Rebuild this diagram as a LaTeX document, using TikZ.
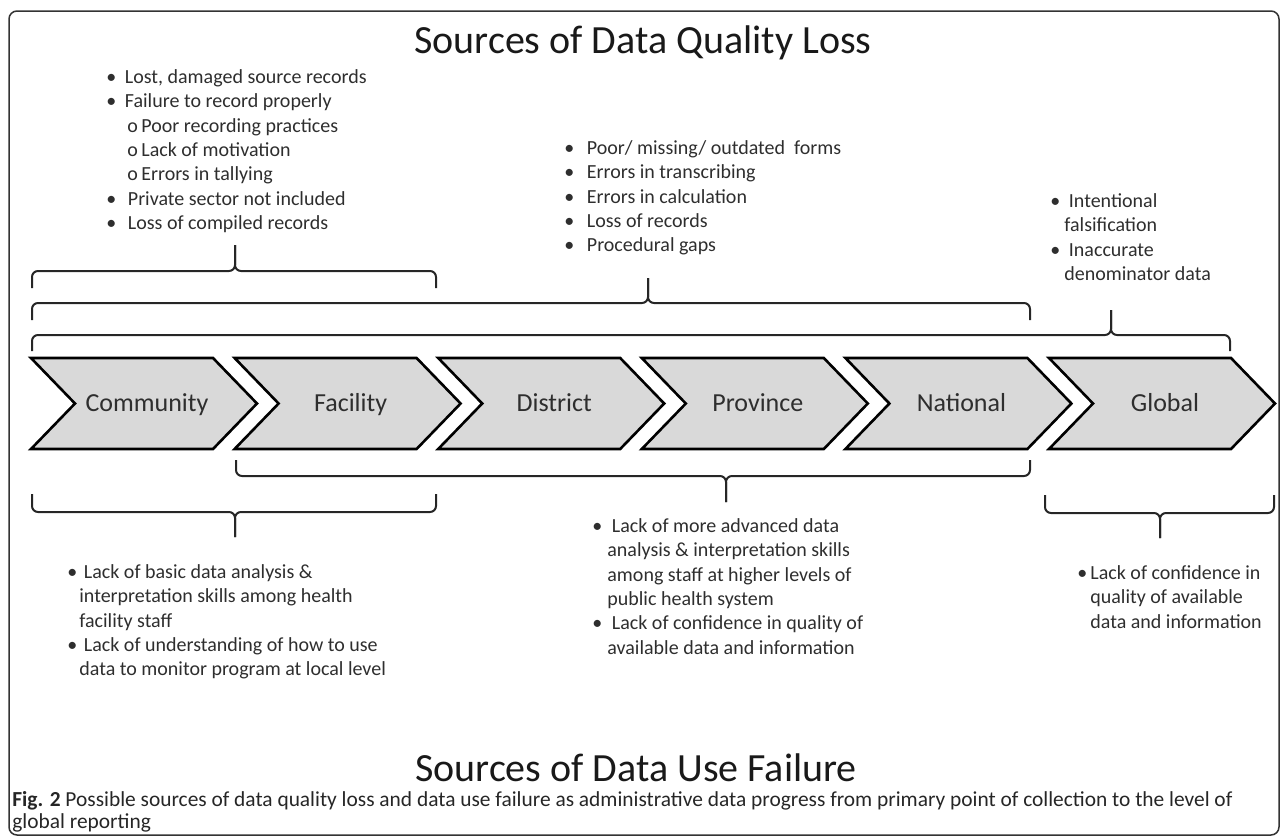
\documentclass[tikz,border=0pt]{standalone}
\usepackage{fontspec}
\setmainfont{Carlito}
\definecolor{chevfill}{HTML}{D9D9D9}
\definecolor{textgray}{HTML}{2E2E2E}
\tikzset{
levelarrow/.style={
	draw=black, fill=chevfill, line width=1.3pt, line join=miter},
levellabel/.style={font=\fontsize{13}{15}\selectfont, text=textgray,
	text height=8.5pt, text depth=2.5pt},
bracepath/.style={draw=black!85, line width=1pt, rounded corners=3pt},
causelist/.style={
	align=left, anchor=north west, inner sep=0pt, text=textgray,
	font=\fontsize{10}{12.2}\selectfont},
headline/.style={font=\fontsize{20}{24}\selectfont, text=black!90},
figframe/.style={draw=black!80, line width=0.75pt, rounded corners=4pt}
}
\newcommand{\bl}[1][6.5pt]{\makebox[#1][l]{\textbullet}}
\newcommand{\subbl}{\hspace*{10.5pt}\makebox[7pt][l]{o}}
% brace: left x, right x, line y, tip x, hook end y, tip end y
\newcommand{\lvlbrace}[6]{%
	\draw[bracepath] (#1,#5) -- (#1,#3) -- (#4,#3) -- (#4,#6);
	\draw[bracepath] (#2,#5) -- (#2,#3) -- (#4,#3) -- (#4,#6);}

\begin{document}
\begin{tikzpicture}[x=0.5pt, y=-0.5pt]
	\useasboundingbox (0,0) rectangle (1287,837);
	\draw[figframe] (9,11) rectangle (1279,835);

	\node[headline] (losstitle) at (643,43) {Sources of Data Quality Loss};

	% levels of the reporting chain
	\foreach \lvl/\nm [count=\i from 0] in {Community/comm, Facility/fac,
		District/dist, Province/prov, National/natl, Global/glob}{
		\draw[levelarrow] ({31+203.6*\i},358) -- ++(182,0) -- ++(44,45.5)
			-- ++(-44,45.5) -- ++(-182,0) -- ++(44,-45.5) -- cycle;
		\node[levellabel] (\nm) at ({147+203.6*\i},405) {\lvl};
	}

	% quality loss (above)
	\node[causelist] (losscomm) at (106,69) {\bl[7pt] Lost, damaged source records\\
		\bl[7pt] Failure to record properly\\
		\subbl Poor recording practices\\
		\subbl Lack of motivation\\
		\subbl Errors in tallying\\
		\bl[8.5pt] Private sector not included\\
		\bl[8.5pt] Loss of compiled records};
	\node[causelist] (lossnatl) at (564,140) {\bl[9pt] Poor/ missing/ outdated\ \ forms\\
		\bl[9pt] Errors in transcribing\\
		\bl[9pt] Errors in calculation\\
		\bl[9pt] Loss of records\\
		\bl[9pt] Procedural gaps};
	\node[causelist] (lossglob) at (1050,193) {\bl[7pt] Intentional\\
		\hspace*{7pt}falsification\\
		\bl[7pt] Inaccurate\\
		\hspace*{7pt}denominator data};

	\lvlbrace{32}{436}{271}{235}{288}{245}
	\lvlbrace{32}{1030}{303}{648}{320}{278}
	\lvlbrace{32}{1230}{335}{1111}{351}{310}

	% data use failure (below)
	\lvlbrace{236}{1030}{476}{726}{460}{502}
	\lvlbrace{32}{436}{512}{235}{494}{537}
	\lvlbrace{1045}{1274}{513}{1160}{495}{538}

	\node[causelist] (usecomm) at (67,564) {\bl[6pt] Lack of basic data analysis \&\\
		\hspace*{6pt}interpretation skills among health\\
		\hspace*{6pt}facility staff\\
		\bl[6pt] Lack of understanding of how to use\\
		\hspace*{6pt}data to monitor program at local level};
	\node[causelist] (usenatl) at (592,518) {\bl[7.5pt] Lack of more advanced data\\
		\hspace*{7.5pt}analysis \& interpretation skills\\
		\hspace*{7.5pt}among staff at higher levels of\\
		\hspace*{7.5pt}public health system\\
		\bl[7.5pt] Lack of confidence in quality of\\
		\hspace*{7.5pt}available data and information};
	\node[causelist] (useglob) at (1077,565) {\bl Lack of confidence in\\
		\hspace*{6.5pt}quality of available\\
		\hspace*{6.5pt}data and information};

	\node[headline] (usetitle) at (636,768) {Sources of Data Use Failure};

	\node[causelist, text=black!85, font=\fontsize{10.7}{11}\selectfont]
		(caption) at (12,791) {\textbf{Fig. 2} Possible sources of data quality loss and
		data use failure as administrative data progress from primary point of
		collection to the level of\\global reporting};
\end{tikzpicture}
\end{document}
